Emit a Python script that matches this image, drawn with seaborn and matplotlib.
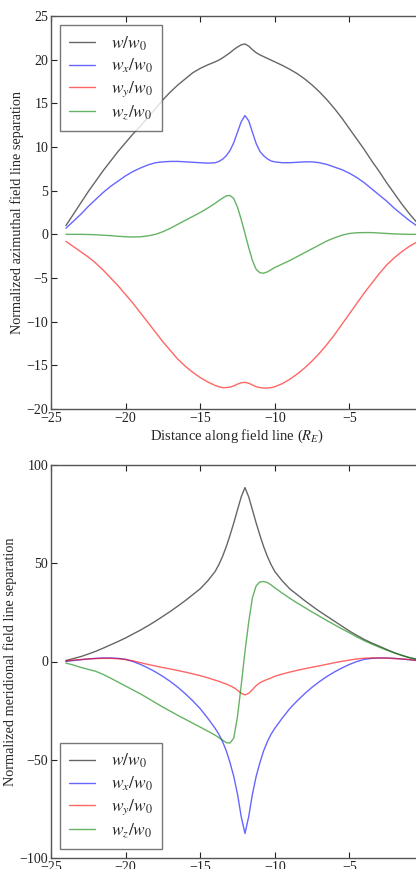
import numpy as np
import pandas as pd
import matplotlib
matplotlib.use("Agg")
import matplotlib.pyplot as plt
import seaborn as sns

# distance along field line (R_E)
dist = [-24, -23.5, -23, -22.5, -22, -21.5, -21, -20.5, -20, -19.5, -19, -18.5, -18, -17.5,
        -17, -16.5, -16, -15.5, -15, -14.5, -14, -13.75, -13.5, -13.25, -13, -12.75, -12.5,
        -12.25, -12, -11.75, -11.5, -11.25, -11, -10.75, -10.5, -10.25, -10, -9.5, -9, -8.5,
        -8, -7.5, -7, -6.5, -6, -5.5, -5, -4.5, -4, -3.5, -3, -2.5, -2, -1.5, -1, -0.5, 0]

# azimuthal separation
az_w = [1.0, 2.3, 3.6, 4.9, 6.1, 7.3, 8.4, 9.5, 10.5, 11.5, 12.4, 13.4, 14.4, 15.4,
        16.3, 17.1, 17.8, 18.5, 19.0, 19.4, 19.75, 19.95, 20.2, 20.5, 20.8, 21.15, 21.45,
        21.7, 21.8, 21.55, 21.15, 20.8, 20.55, 20.35, 20.15, 19.95, 19.75, 19.35, 18.9, 18.4,
        17.8, 17.1, 16.3, 15.4, 14.4, 13.3, 12.1, 10.9, 9.7, 8.4, 7.2, 5.9, 4.7, 3.5, 2.4, 1.4, 0.5]
az_wx = [0.7, 1.5, 2.3, 3.2, 4.0, 4.8, 5.5, 6.1, 6.7, 7.2, 7.6, 7.95, 8.2, 8.3,
         8.35, 8.35, 8.3, 8.25, 8.2, 8.15, 8.2, 8.35, 8.6, 9.0, 9.6, 10.5, 11.7,
         12.9, 13.6, 13.0, 11.7, 10.4, 9.5, 9.0, 8.65, 8.4, 8.3, 8.2, 8.2, 8.25,
         8.3, 8.3, 8.2, 8.0, 7.7, 7.4, 7.0, 6.5, 5.9, 5.2, 4.5, 3.8, 3.0, 2.3, 1.6, 1.0, 0.4]
az_wy = [-0.8, -1.4, -2.0, -2.6, -3.3, -4.1, -5.0, -5.9, -6.9, -7.9, -9.0, -10.1, -11.2, -12.3,
         -13.3, -14.3, -15.1, -15.8, -16.4, -16.9, -17.3, -17.45, -17.55, -17.55, -17.5, -17.35, -17.15,
         -17.0, -16.95, -17.05, -17.25, -17.45, -17.55, -17.6, -17.6, -17.55, -17.45, -17.1, -16.6, -16.0,
         -15.3, -14.5, -13.6, -12.6, -11.5, -10.3, -9.1, -7.9, -6.7, -5.6, -4.5, -3.5, -2.7, -2.0, -1.4, -0.9, -0.5]
az_wz = [0.0, 0.0, 0.0, -0.02, -0.05, -0.1, -0.15, -0.22, -0.28, -0.3, -0.28, -0.18, 0.0, 0.3,
         0.7, 1.15, 1.6, 2.05, 2.5, 3.0, 3.55, 3.85, 4.15, 4.4, 4.45, 4.1, 3.1,
         1.7, 0.1, -1.5, -3.0, -4.0, -4.4, -4.45, -4.3, -4.05, -3.8, -3.4, -3.0, -2.55,
         -2.1, -1.65, -1.2, -0.75, -0.4, -0.1, 0.1, 0.18, 0.2, 0.2, 0.15, 0.1, 0.05, 0.02, 0.0, 0.0, 0.0]

# meridional separation
me_w = [0.5, 1.5, 2.5, 3.8, 5.2, 6.8, 8.5, 10.2, 12.0, 14.0, 16.0, 18.2, 20.5, 23.0,
        25.5, 28.2, 31.0, 34.0, 37.0, 41.0, 45.8, 49.3, 53.5, 58.5, 64.3, 70.5, 77.2,
        83.8, 88.5, 83.8, 77.2, 70.5, 64.3, 58.5, 53.5, 49.3, 45.8, 41.0, 37.0, 34.0,
        31.0, 28.2, 25.5, 23.0, 20.5, 18.0, 15.5, 13.3, 11.2, 9.4, 7.8, 6.1, 4.5, 3.2, 2.0, 1.2, 0.5]
me_wx = [0.0, 0.5, 0.9, 1.3, 1.6, 1.8, 1.8, 1.6, 1.1, 0.0, -1.5, -3.3, -5.3, -7.6,
         -10.2, -13.1, -16.4, -20.0, -24.0, -28.8, -34.0, -37.0, -40.8, -45.5, -51.5, -58.5, -67.5,
         -79.0, -87.5, -79.0, -67.5, -58.5, -51.5, -45.5, -40.8, -37.0, -34.0, -28.8, -24.0, -20.0,
         -16.4, -13.1, -10.2, -7.6, -5.3, -3.3, -1.5, 0.0, 1.1, 1.6, 1.8, 1.8, 1.6, 1.3, 0.9, 0.5, 0.0]
me_wy = [0.3, 0.7, 1.0, 1.3, 1.5, 1.6, 1.6, 1.4, 1.0, 0.3, -0.6, -1.5, -2.3, -3.1,
         -3.8, -4.6, -5.4, -6.3, -7.2, -8.3, -9.5, -10.1, -10.8, -11.5, -12.3, -13.3, -14.6,
         -16.2, -17.0, -16.2, -14.3, -12.3, -10.8, -9.9, -9.1, -8.4, -7.5, -6.4, -5.4, -4.5,
         -3.7, -2.9, -2.2, -1.4, -0.6, 0.1, 0.7, 1.3, 1.7, 1.8, 1.8, 1.7, 1.5, 1.3, 1.0, 0.6, 0.3]
me_wz = [-0.8, -1.8, -3.0, -4.0, -5.0, -6.6, -8.5, -10.5, -12.5, -14.5, -16.5, -18.7, -21.0, -23.2,
         -25.3, -27.4, -29.4, -31.4, -33.4, -35.4, -37.5, -38.7, -40.0, -41.3, -41.5, -39.0, -28.0,
         -12.0, 5.0, 20.0, 32.5, 38.5, 40.5, 40.7, 40.2, 39.0, 37.5, 34.8, 32.2, 29.8,
         27.5, 25.2, 23.0, 20.8, 18.7, 16.6, 14.6, 12.5, 10.6, 8.9, 7.3, 5.8, 4.4, 3.1, 2.0, 1.1, 0.5]

labels = [r"$w/w_0$", r"$w_x/w_0$", r"$w_y/w_0$", r"$w_z/w_0$"]
colors = ["k", "b", "r", "g"]

sns.set_style("ticks")
plt.rcParams["font.family"] = ["Liberation Serif", "DejaVu Serif"]
plt.rcParams["mathtext.fontset"] = "stix"
plt.rcParams["axes.unicode_minus"] = True

fig = plt.figure(figsize=(4.16, 8.69), dpi=100)
W, H = 416.0, 869.0
ax1 = fig.add_axes([51 / W, (H - 409) / H, 373 / W, 393 / H])
ax2 = fig.add_axes([51 / W, (H - 858) / H, 373 / W, 393 / H])


def draw(ax, series, ylim, yticks, ylabel, loc):
    for vals, lab, col in zip(series, labels, colors):
        df = pd.DataFrame({"x": dist, "y": vals})
        sns.lineplot(data=df, x="x", y="y", ax=ax, color=col, alpha=0.6,
                     linewidth=1.0, label=lab, sort=False)
    ax.set_xlim(-25, 0)
    ax.set_ylim(*ylim)
    ax.set_xticks(np.arange(-25, 1, 5))
    ax.set_yticks(yticks)
    ax.tick_params(direction="in", top=True, right=True, length=4, width=0.8,
                   labelsize=10, pad=2, colors="#222222")
    for sp in ax.spines.values():
        sp.set_color("#555555")
        sp.set_linewidth(1.0)
    ax.set_ylabel(ylabel, fontsize=10.3, labelpad=2)
    ax.set_xlabel("")
    leg = ax.legend(loc=loc, fontsize=12.5, frameon=True, fancybox=False,
                    handlelength=1.5, handletextpad=0.9, labelspacing=0.25,
                    borderpad=0.55, borderaxespad=0.5)
    leg.get_frame().set_edgecolor("#555555")
    leg.get_frame().set_linewidth(1.0)


draw(ax1, [az_w, az_wx, az_wy, az_wz], (-20, 25), np.arange(-20, 26, 5),
     "Normalized azimuthal field line separation", "upper left")
ax1.set_xlabel(r"Distance along field line ($R_E$)", fontsize=10.5, labelpad=2)

draw(ax2, [me_w, me_wx, me_wy, me_wz], (-100, 100), np.arange(-100, 101, 50),
     "Normalized meridional field line separation", "lower left")

fig.savefig("out.png", dpi=100)
